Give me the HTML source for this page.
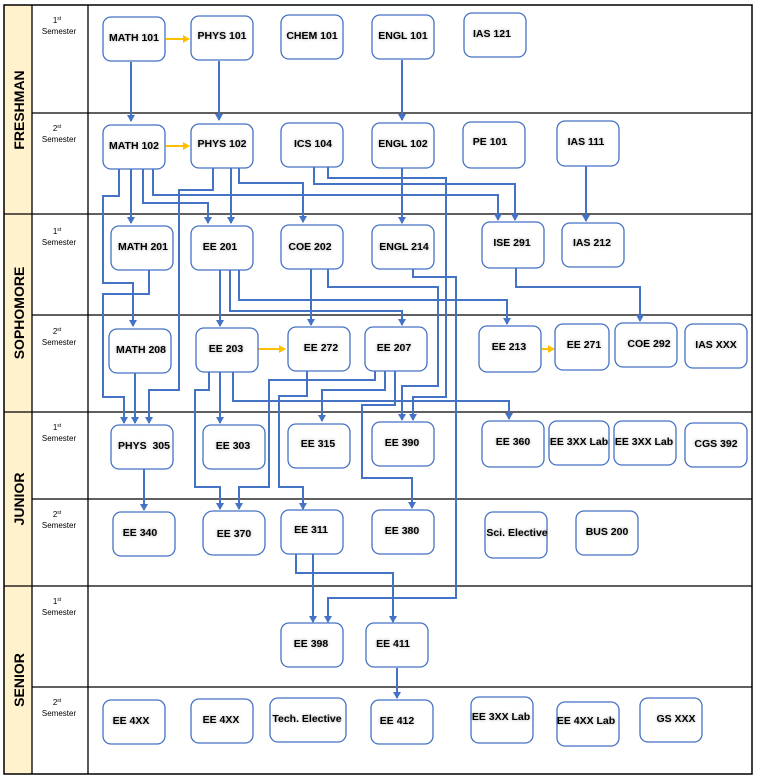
<!DOCTYPE html>
<html><head><meta charset="utf-8"><style>
html,body{margin:0;padding:0;background:#fff;}
svg{display:block;}
.b{fill:#fff;stroke:#4472c4;stroke-width:1.3;}
.t{font-family:"Liberation Sans",sans-serif;font-weight:bold;font-size:10.5px;fill:#000;text-anchor:middle;filter:url(#sh);}
.s{font-family:"Liberation Sans",sans-serif;font-size:8px;fill:#000;text-anchor:middle;}
.y{font-family:"Liberation Sans",sans-serif;font-weight:bold;font-size:14px;fill:#000;text-anchor:middle;}
.c{fill:none;stroke:#4472c4;stroke-width:2;marker-end:url(#a);}
.o{fill:none;stroke:#ffc000;stroke-width:2;marker-end:url(#ay);}
.g{stroke:#000;stroke-width:1.3;}
</style></head><body>
<svg width="768" height="778" viewBox="0 0 768 778" xmlns="http://www.w3.org/2000/svg">
<defs>
<marker id="a" markerWidth="8" markerHeight="8" refX="6" refY="4" orient="auto" markerUnits="userSpaceOnUse"><path d="M0,0 L7,4 L0,8 z" fill="#4472c4"/></marker>
<marker id="ay" markerWidth="8" markerHeight="8" refX="6" refY="4" orient="auto" markerUnits="userSpaceOnUse"><path d="M0,0 L7,4 L0,8 z" fill="#ffc000"/></marker>
<filter id="sh" x="-20%" y="-50%" width="140%" height="200%"><feGaussianBlur in="SourceAlpha" stdDeviation="1.5"/><feComponentTransfer><feFuncA type="linear" slope="0.35"/></feComponentTransfer><feMerge><feMergeNode/><feMergeNode in="SourceGraphic"/></feMerge></filter>
</defs>
<rect x="4" y="5" width="28" height="769" fill="#fff2cc"/>
<rect x="4" y="5" width="748" height="769" fill="none" stroke="#000" stroke-width="1.5"/>
<line class="g" x1="32" y1="5" x2="32" y2="774"/>
<line class="g" x1="88" y1="5" x2="88" y2="774"/>
<line class="g" x1="32" y1="113" x2="752" y2="113"/>
<line class="g" x1="4" y1="214" x2="752" y2="214"/>
<line class="g" x1="32" y1="315" x2="752" y2="315"/>
<line class="g" x1="4" y1="412" x2="752" y2="412"/>
<line class="g" x1="32" y1="499" x2="752" y2="499"/>
<line class="g" x1="4" y1="586" x2="752" y2="586"/>
<line class="g" x1="32" y1="687" x2="752" y2="687"/>

<text class="y" transform="translate(24,110) rotate(-90)">FRESHMAN</text>
<text class="y" transform="translate(24,313) rotate(-90)">SOPHOMORE</text>
<text class="y" transform="translate(24,499) rotate(-90)">JUNIOR</text>
<text class="y" transform="translate(24,680) rotate(-90)">SENIOR</text>

<g>
<text class="s" x="57" y="23">1<tspan font-size="5" dy="-3">st</tspan></text><text class="s" x="59" y="34">Semester</text>
<text class="s" x="57" y="131">2<tspan font-size="5" dy="-3">st</tspan></text><text class="s" x="59" y="142">Semester</text>
<text class="s" x="57" y="234">1<tspan font-size="5" dy="-3">st</tspan></text><text class="s" x="59" y="245">Semester</text>
<text class="s" x="57" y="334">2<tspan font-size="5" dy="-3">st</tspan></text><text class="s" x="59" y="345">Semester</text>
<text class="s" x="57" y="430">1<tspan font-size="5" dy="-3">st</tspan></text><text class="s" x="59" y="441">Semester</text>
<text class="s" x="57" y="517">2<tspan font-size="5" dy="-3">st</tspan></text><text class="s" x="59" y="528">Semester</text>
<text class="s" x="57" y="604">1<tspan font-size="5" dy="-3">st</tspan></text><text class="s" x="59" y="615">Semester</text>
<text class="s" x="57" y="705">2<tspan font-size="5" dy="-3">st</tspan></text><text class="s" x="59" y="716">Semester</text>
</g>

<g>
<polyline class="c" points="131,62 131,121"/>
<polyline class="c" points="219,61 219,120"/>
<polyline class="c" points="402,60 402,120"/>
<polyline class="c" points="131,169 131,223"/>
<polyline class="c" points="119,169 119,196 103,196 103,283 133,283 133,326"/>
<polyline class="c" points="143,169 143,203 208,203 208,223"/>
<polyline class="c" points="153,169 153,195 498,195 498,220"/>
<polyline class="c" points="213,168 213,190 179,190 179,390 149,390 149,423"/>
<polyline class="c" points="231,168 231,223"/>
<polyline class="c" points="239,168 239,183 303,183 303,222"/>
<polyline class="c" points="314,167 314,184 515,184 515,220"/>
<polyline class="c" points="328,167 328,178 446,178 446,397 413,397 413,420"/>
<polyline class="c" points="402,168 402,223"/>
<polyline class="c" points="586,166 586,221"/>
<polyline class="c" points="149,270 149,294 103,294 103,397 124,397 124,423"/>
<polyline class="c" points="220,270 220,326"/>
<polyline class="c" points="230,270 230,311 402,311 402,325"/>
<polyline class="c" points="239,270 239,300 507,300 507,324"/>
<polyline class="c" points="311,269 311,325"/>
<polyline class="c" points="328,269 328,287 438,287 438,386 402,386 402,420"/>
<polyline class="c" points="413,269 413,277 456,277 456,598 328,598 328,622"/>
<polyline class="c" points="516,268 516,287 640,287 640,321"/>
<polyline class="c" points="135,373 135,423"/>
<polyline class="c" points="209,372 209,390 195,390 195,487 220,487 220,509"/>
<polyline class="c" points="220,372 220,423"/>
<polyline class="c" points="233,372 233,401 509,401 509,419"/>
<polyline class="c" points="307,371 307,396 279,396 279,487 303,487 303,509"/>
<polyline class="c" points="375,371 375,380 269,380 269,487 239,487 239,509"/>
<polyline class="c" points="385,371 385,390 322,390 322,421"/>
<polyline class="c" points="395,371 395,405 362,405 362,478 412,478 412,508"/>
<polyline class="c" points="144,469 144,510"/>
<polyline class="c" points="313,554 313,622"/>
<polyline class="c" points="296,554 296,573 393,573 393,622"/>
<polyline class="c" points="397,668 397,698"/>
<polyline class="o" points="166,39 189,39"/>
<polyline class="o" points="166,146 189,146"/>
<polyline class="o" points="258,349 285,349"/>
<polyline class="o" points="542,349 554,349"/>
</g>

<g>
<rect class="b" x="103" y="17" width="62" height="44" rx="8"/><text class="t" x="134" y="41">MATH 101</text>
<rect class="b" x="191" y="16" width="62" height="44" rx="8"/><text class="t" x="222" y="39">PHYS 101</text>
<rect class="b" x="281" y="15" width="62" height="44" rx="8"/><text class="t" x="312" y="39">CHEM 101</text>
<rect class="b" x="372" y="15" width="62" height="44" rx="8"/><text class="t" x="403" y="39">ENGL 101</text>
<rect class="b" x="464" y="13" width="62" height="44" rx="8"/><text class="t" x="492" y="37">IAS 121</text>

<rect class="b" x="103" y="125" width="62" height="44" rx="8"/><text class="t" x="134" y="149">MATH 102</text>
<rect class="b" x="191" y="124" width="62" height="44" rx="8"/><text class="t" x="222" y="147">PHYS 102</text>
<rect class="b" x="281" y="123" width="62" height="44" rx="8"/><text class="t" x="313" y="147">ICS 104</text>
<rect class="b" x="372" y="123" width="62" height="45" rx="8"/><text class="t" x="403" y="147">ENGL 102</text>
<rect class="b" x="463" y="122" width="62" height="46" rx="8"/><text class="t" x="490" y="145">PE 101</text>
<rect class="b" x="557" y="121" width="62" height="45" rx="8"/><text class="t" x="586" y="145">IAS 111</text>

<rect class="b" x="111" y="226" width="62" height="44" rx="8"/><text class="t" x="143" y="250">MATH 201</text>
<rect class="b" x="191" y="226" width="62" height="44" rx="8"/><text class="t" x="220" y="250">EE 201</text>
<rect class="b" x="281" y="225" width="62" height="44" rx="8"/><text class="t" x="310" y="250">COE 202</text>
<rect class="b" x="372" y="225" width="62" height="44" rx="8"/><text class="t" x="404" y="250">ENGL 214</text>
<rect class="b" x="482" y="222" width="62" height="46" rx="8"/><text class="t" x="512" y="246">ISE 291</text>
<rect class="b" x="562" y="223" width="62" height="44" rx="8"/><text class="t" x="592" y="246">IAS 212</text>

<rect class="b" x="109" y="329" width="62" height="44" rx="8"/><text class="t" x="141" y="353">MATH 208</text>
<rect class="b" x="196" y="328" width="62" height="44" rx="8"/><text class="t" x="226" y="352">EE 203</text>
<rect class="b" x="288" y="327" width="62" height="44" rx="8"/><text class="t" x="321" y="351">EE 272</text>
<rect class="b" x="365" y="327" width="62" height="44" rx="8"/><text class="t" x="394" y="351">EE 207</text>
<rect class="b" x="479" y="326" width="62" height="46" rx="8"/><text class="t" x="509" y="350">EE 213</text>
<rect class="b" x="555" y="324" width="54" height="46" rx="8"/><text class="t" x="584" y="348">EE 271</text>
<rect class="b" x="615" y="323" width="62" height="44" rx="8"/><text class="t" x="649" y="347">COE 292</text>
<rect class="b" x="685" y="324" width="62" height="44" rx="8"/><text class="t" x="716" y="348">IAS XXX</text>

<rect class="b" x="111" y="425" width="62" height="44" rx="8"/><text class="t" x="144" y="449" xml:space="preserve">PHYS  305</text>
<rect class="b" x="203" y="425" width="62" height="44" rx="8"/><text class="t" x="233" y="449">EE 303</text>
<rect class="b" x="288" y="424" width="62" height="44" rx="8"/><text class="t" x="318" y="447">EE 315</text>
<rect class="b" x="372" y="422" width="62" height="44" rx="8"/><text class="t" x="402" y="446">EE 390</text>
<rect class="b" x="482" y="421" width="62" height="46" rx="8"/><text class="t" x="513" y="445">EE 360</text>
<rect class="b" x="549" y="421" width="60" height="44" rx="8"/><text class="t" x="579" y="445">EE 3XX Lab</text>
<rect class="b" x="614" y="421" width="62" height="44" rx="8"/><text class="t" x="644" y="445">EE 3XX Lab</text>
<rect class="b" x="685" y="423" width="62" height="44" rx="8"/><text class="t" x="716" y="447">CGS 392</text>

<rect class="b" x="113" y="512" width="62" height="44" rx="8"/><text class="t" x="140" y="536">EE 340</text>
<rect class="b" x="203" y="511" width="62" height="44" rx="10"/><text class="t" x="234" y="537">EE 370</text>
<rect class="b" x="281" y="510" width="62" height="44" rx="8"/><text class="t" x="311" y="533">EE 311</text>
<rect class="b" x="372" y="510" width="62" height="44" rx="8"/><text class="t" x="402" y="534">EE 380</text>
<rect class="b" x="485" y="512" width="62" height="46" rx="8"/><text class="t" x="517" y="536">Sci. Elective</text>
<rect class="b" x="576" y="511" width="62" height="44" rx="8"/><text class="t" x="607" y="535">BUS 200</text>

<rect class="b" x="281" y="623" width="62" height="44" rx="8"/><text class="t" x="311" y="647">EE 398</text>
<rect class="b" x="366" y="623" width="62" height="44" rx="8"/><text class="t" x="393" y="647">EE 411</text>

<rect class="b" x="103" y="700" width="62" height="44" rx="8"/><text class="t" x="131" y="724">EE 4XX</text>
<rect class="b" x="191" y="699" width="62" height="44" rx="8"/><text class="t" x="221" y="723">EE 4XX</text>
<rect class="b" x="270" y="698" width="76" height="44" rx="8"/><text class="t" x="307" y="722">Tech. Elective</text>
<rect class="b" x="371" y="700" width="62" height="44" rx="8"/><text class="t" x="397" y="724">EE 412</text>
<rect class="b" x="471" y="697" width="62" height="46" rx="8"/><text class="t" x="501" y="720">EE 3XX Lab</text>
<rect class="b" x="557" y="702" width="62" height="44" rx="8"/><text class="t" x="586" y="724">EE 4XX Lab</text>
<rect class="b" x="640" y="698" width="62" height="44" rx="8"/><text class="t" x="676" y="722">GS XXX</text>
</g>
</svg>
</body></html>
